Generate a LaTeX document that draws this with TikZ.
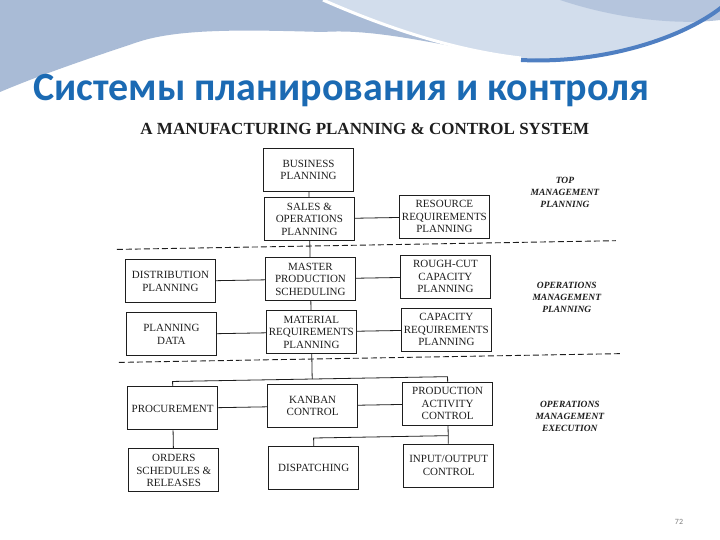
\documentclass[tikz,border=0pt]{standalone}
\usepackage{fontspec}
\setmainfont{Liberation Serif}
\newfontfamily\slidefont{Carlito}
\definecolor{titleblue}{HTML}{1B6AB3}
\definecolor{bandgrey}{HTML}{A9BBD6}
\definecolor{bandlight}{HTML}{D2DDEC}
\definecolor{arcblue}{HTML}{4F7FC2}
\definecolor{inkgrey}{HTML}{1E1E1E}

\tikzset{
  stage/.style={draw=inkgrey, line width=1pt, minimum width=90pt, minimum height=43pt,
    inner sep=1pt, align=center, text=inkgrey, font=\fontsize{11}{12.5}\selectfont},
  level/.style={align=center, text=inkgrey, font=\fontsize{9.5}{12}\selectfont\bfseries\itshape},
  link/.style={draw=inkgrey, line width=0.8pt},
  divider/.style={draw=inkgrey, line width=0.9pt, dash pattern=on 6pt off 3pt}
}

\begin{document}
\begin{tikzpicture}[x=1pt, y=-1pt]
  \useasboundingbox (0,0) rectangle (720,540);
  \fill[white] (0,0) rectangle (720,540);

  % top band of the slide
  \fill[bandgrey] (0,0) -- (323,0) .. controls (380,25) and (450,50) .. (521,58)
    .. controls (450,48) and (380,28) .. (323,32)
    .. controls (250,30) and (180,28) .. (138,42)
    .. controls (90,58) and (40,75) .. (0,92) -- cycle;
  \fill[bandlight] (323,0) .. controls (380,25) and (450,50) .. (521,58)
    .. controls (600,64) and (680,40) .. (720,8) -- (720,0) -- cycle;
  \fill[bandgrey!70!bandlight] (560,0) .. controls (620,20) and (680,25) .. (720,20) -- (720,0) -- cycle;
  \draw[white, line width=3pt] (323,0) .. controls (380,25) and (450,50) .. (521,58);
  \draw[arcblue, line width=4pt] (521,60) .. controls (600,64) and (680,40) .. (722,7);

  \node[anchor=base west, inner sep=0pt, text=titleblue, font=\slidefont\fontsize{40}{42}\selectfont\bfseries]
    (slidetitle) at (33,101) {Системы планирования и контроля};
  \node[text=gray, font=\slidefont\fontsize{8}{9}\selectfont] (pageno) at (679,522) {72};

  \begin{scope}[rotate around={1:(370,310)}]
    \node[text=inkgrey, font=\fontsize{17}{18}\selectfont\bfseries] (heading) at (368,129)
      {A MANUFACTURING PLANNING \& CONTROL SYSTEM};

    % planning levels
    \draw[divider] (118,245) -- (617,245);
    \draw[divider] (118,358) -- (620,358);
    \node[level] (toplvl) at (567,196) {TOP\\MANAGEMENT\\PLANNING};
    \node[level] (opplan) at (567,301) {OPERATIONS\\MANAGEMENT\\PLANNING};
    \node[level] (opexec) at (568,420) {OPERATIONS\\MANAGEMENT\\EXECUTION};

    % boxes
    \node[stage] (busplan)  at (311,169) {BUSINESS\\PLANNING};
    \node[stage] (salesop)  at (311,218) {SALES \&\\OPERATIONS\\PLANNING};
    \node[stage] (resreq)   at (446,218) {RESOURCE\\REQUIREMENTS\\PLANNING};
    \node[stage] (distplan) at (171,278) {DISTRIBUTION\\PLANNING};
    \node[stage] (mps)      at (311,278) {MASTER\\PRODUCTION\\SCHEDULING};
    \node[stage] (roughcut) at (446,278) {ROUGH-CUT\\CAPACITY\\PLANNING};
    \node[stage] (plandata) at (171,331) {PLANNING\\DATA};
    \node[stage] (mrp)      at (311,331) {MATERIAL\\REQUIREMENTS\\PLANNING};
    \node[stage] (crp)      at (446,331) {CAPACITY\\REQUIREMENTS\\PLANNING};
    \node[stage] (procure)  at (171,405) {PROCUREMENT};
    \node[stage] (kanban)   at (311,405) {KANBAN\\CONTROL};
    \node[stage] (pac)      at (446,405) {PRODUCTION\\ACTIVITY\\CONTROL};
    \node[stage] (orders)   at (171,467) {ORDERS\\SCHEDULES \&\\RELEASES};
    \node[stage] (dispatch) at (311,467) {DISPATCHING};
    \node[stage] (inout)    at (446,467) {INPUT/OUTPUT\\CONTROL};

    % links
    \coordinate (busA) at (311,378);
    \coordinate (busB) at (446,437);
    \draw[link] (busplan) -- (salesop);
    \draw[link] (salesop) -- (resreq);
    \draw[link] (salesop) -- (mps);
    \draw[link] (distplan) -- (mps);
    \draw[link] (mps) -- (roughcut);
    \draw[link] (mps) -- (mrp);
    \draw[link] (plandata) -- (mrp);
    \draw[link] (mrp) -- (crp);
    \draw[link] (mrp) -- (busA);
    \draw[link] (procure.north) -- (procure.north |- busA) -- (pac.north |- busA) -- (pac.north);
    \draw[link] (procure) -- (kanban);
    \draw[link] (kanban) -- (pac);
    \draw[link] (procure) -- (orders);
    \draw[link] (pac) -- (inout);
    \draw[link] (busB) -| (dispatch.north);
  \end{scope}
\end{tikzpicture}
\end{document}
